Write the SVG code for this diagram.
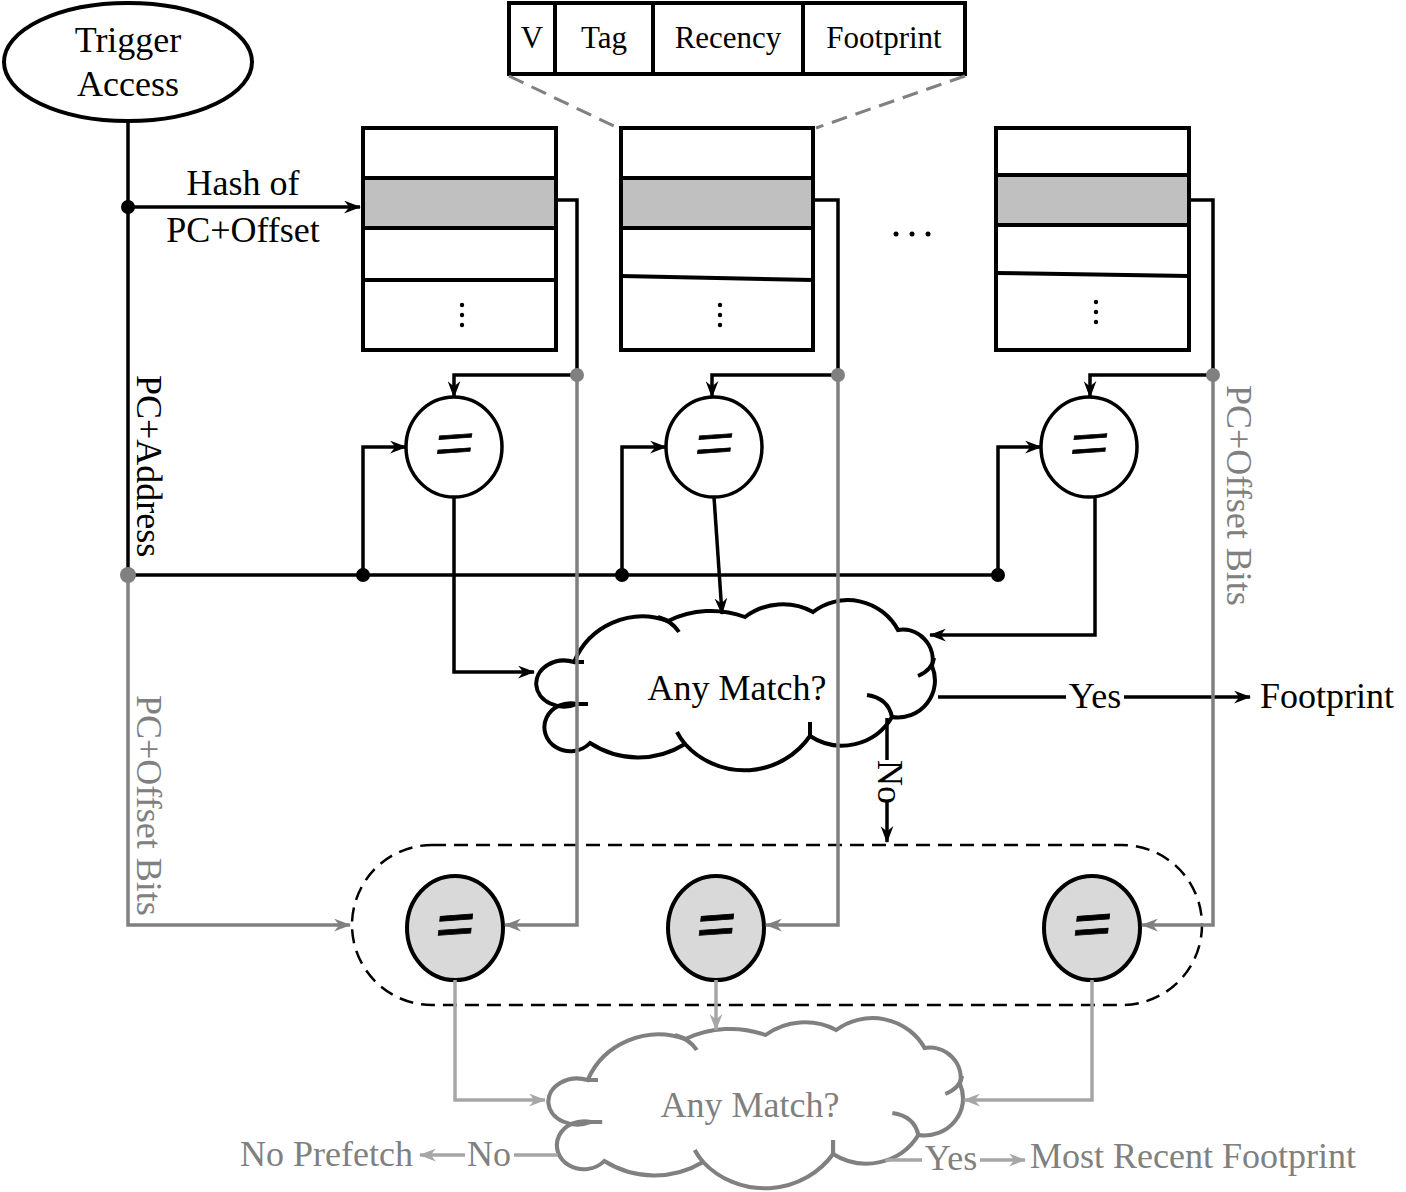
<svg xmlns="http://www.w3.org/2000/svg" width="1406" height="1192" viewBox="0 0 1406 1192">
<style>
text{font-family:"Liberation Serif","Times New Roman",serif;}
.t{font-size:36px;fill:#000;}
.tg{font-size:36px;fill:#808080;}
.tb{font-size:31px;fill:#000;}
.eq{font-family:"Liberation Serif",serif;font-size:70px;fill:#000;stroke:#000;stroke-width:0.8;}
.box{fill:#fff;stroke:#000;stroke-width:4;}
.row{fill:#c0c0c0;stroke:#000;stroke-width:4;}
.bl{fill:none;stroke:#000;stroke-width:3.5;}
.gl{fill:none;stroke:#808080;stroke-width:3.5;}
.ll{fill:none;stroke:#a6a6a6;stroke-width:3.5;}
.cmp{fill:#fff;stroke:#000;stroke-width:3.5;}
.cmpg{fill:#d9d9d9;stroke:#000;stroke-width:4;}
</style>
<defs>
<marker id="ab" viewBox="0 0 16 12" refX="15" refY="6" markerWidth="17" markerHeight="13" markerUnits="userSpaceOnUse" orient="auto"><path d="M0,0 L16,6 L0,12 L5,6 z" fill="#000"/></marker>
<marker id="ag" viewBox="0 0 16 12" refX="15" refY="6" markerWidth="17" markerHeight="13" markerUnits="userSpaceOnUse" orient="auto"><path d="M0,0 L16,6 L0,12 L5,6 z" fill="#808080"/></marker>
<marker id="al" viewBox="0 0 16 12" refX="15" refY="6" markerWidth="17" markerHeight="13" markerUnits="userSpaceOnUse" orient="auto"><path d="M0,0 L16,6 L0,12 L5,6 z" fill="#a6a6a6"/></marker>
<g id="cloudshape">
<path d="M 577 704 A 28 23 0 1 1 574 662 A 74 74 0 0 1 668 621 A 97 97 0 0 1 745 617 A 63 63 0 0 1 813 612 A 57 57 0 0 1 898 630 A 30 30 0 0 1 932 666 A 37 37 0 0 1 892 717 A 58 58 0 0 1 810 736 A 80 80 0 0 1 685 744 A 88 88 0 0 1 590 743 A 26 24 0 1 1 577 704 Z" fill="#fff"/>
<path d="M 658 617 Q 672 621 679 632 M 934 658 Q 932 670 918 676 M 867 695 Q 888 698 892 717 M 810 736 L 810 722 M 685 744 Q 680 738 677 732 M 574 662 L 584 662 M 577 704 L 588 704" fill="none"/>
</g>
</defs>

<g id="entry">
<rect class="box" x="509" y="3" width="456" height="71"/>
<line x1="555" y1="3" x2="555" y2="74" stroke="#000" stroke-width="4"/>
<line x1="653" y1="3" x2="653" y2="74" stroke="#000" stroke-width="4"/>
<line x1="803" y1="3" x2="803" y2="74" stroke="#000" stroke-width="4"/>
<text class="tb" x="532" y="48" text-anchor="middle">V</text>
<text class="tb" x="604" y="48" text-anchor="middle">Tag</text>
<text class="tb" x="728" y="48" text-anchor="middle">Recency</text>
<text class="tb" x="884" y="48" text-anchor="middle">Footprint</text>
<line x1="509" y1="76" x2="618" y2="128" stroke="#808080" stroke-width="3" stroke-dasharray="16 9"/>
<line x1="965" y1="76" x2="816" y2="128" stroke="#808080" stroke-width="3" stroke-dasharray="16 9"/>
</g>

<g id="trigger">
<ellipse cx="128" cy="62" rx="124" ry="59" fill="#fff" stroke="#000" stroke-width="4"/>
<text class="t" x="128" y="52" text-anchor="middle" font-size="38">Trigger</text>
<text class="t" x="128" y="96" text-anchor="middle" font-size="38">Access</text>
</g>

<g id="table1">
<rect class="box" x="363" y="128" width="193" height="222"/>
<rect class="row" x="363" y="178" width="193" height="50"/>
<line x1="363" y1="280" x2="556" y2="280" stroke="#000" stroke-width="4"/>
<circle cx="462" cy="305" r="2.2"/><circle cx="462" cy="315" r="2.2"/><circle cx="462" cy="325" r="2.2"/>
</g>
<g id="table2">
<rect class="box" x="621" y="128" width="192" height="222"/>
<rect class="row" x="621" y="178" width="192" height="50"/>
<line x1="621" y1="276" x2="813" y2="280" stroke="#000" stroke-width="4"/>
<circle cx="720" cy="305" r="2.2"/><circle cx="720" cy="315" r="2.2"/><circle cx="720" cy="325" r="2.2"/>
</g>
<g id="ellipsis">
<circle cx="896" cy="234" r="2.5"/><circle cx="912" cy="234" r="2.5"/><circle cx="928" cy="234" r="2.5"/>
</g>
<g id="table3">
<rect class="box" x="996" y="128" width="193" height="222"/>
<rect class="row" x="996" y="175" width="193" height="50"/>
<line x1="996" y1="273" x2="1189" y2="276" stroke="#000" stroke-width="4"/>
<circle cx="1096" cy="302" r="2.2"/><circle cx="1096" cy="312" r="2.2"/><circle cx="1096" cy="322" r="2.2"/>
</g>

<g id="cmp1"><ellipse class="cmp" cx="454" cy="447" rx="48" ry="50"/><text class="eq" text-anchor="middle" transform="translate(454 449) rotate(-4) skewX(-10)" y="18">=</text></g>
<g id="cmp2"><ellipse class="cmp" cx="714" cy="447" rx="48" ry="50"/><text class="eq" text-anchor="middle" transform="translate(714 449) rotate(-4) skewX(-10)" y="18">=</text></g>
<g id="cmp3"><ellipse class="cmp" cx="1089" cy="447" rx="48" ry="50"/><text class="eq" text-anchor="middle" transform="translate(1089 449) rotate(-4) skewX(-10)" y="18">=</text></g>

<g id="cloud1">
<use href="#cloudshape" stroke="#000" stroke-width="4"/>
<text class="t" x="737" y="700" text-anchor="middle">Any Match?</text>
</g>

<g id="group2">
<rect x="352" y="845" width="850" height="160" rx="80" ry="80" fill="none" stroke="#000" stroke-width="2.5" stroke-dasharray="14 8"/>
</g>
<g id="gcmp1"><ellipse class="cmpg" cx="455" cy="928" rx="48" ry="52"/><text class="eq" font-weight="bold" text-anchor="middle" transform="translate(455 930) rotate(-4) skewX(-10)" y="18">=</text></g>
<g id="gcmp2"><ellipse class="cmpg" cx="716" cy="928" rx="48" ry="52"/><text class="eq" font-weight="bold" text-anchor="middle" transform="translate(716 930) rotate(-4) skewX(-10)" y="18">=</text></g>
<g id="gcmp3"><ellipse class="cmpg" cx="1092" cy="928" rx="48" ry="52"/><text class="eq" font-weight="bold" text-anchor="middle" transform="translate(1092 930) rotate(-4) skewX(-10)" y="18">=</text></g>

<g id="cloud2">
<use href="#cloudshape" stroke="#808080" stroke-width="4" transform="translate(545,1100) scale(1.04,1) translate(-533,-682)"/>
<text class="tg" x="750" y="1117" text-anchor="middle">Any Match?</text>
</g>

<g id="outputs">
<text class="t" x="1260" y="708">Footprint</text>
<text class="tg" x="413" y="1166" text-anchor="end">No Prefetch</text>
<text class="tg" x="1030" y="1168">Most Recent Footprint</text>
</g>

<g id="connectors">
<path class="bl" d="M128 122 V575 H998"/>
<path class="bl" d="M128 207 H360" marker-end="url(#ab)"/>
<path class="bl" d="M556 200 H577 V375"/>
<path class="bl" d="M813 200 H838 V375"/>
<path class="bl" d="M1189 200 H1213 V375"/>
<path class="bl" d="M577 375 H454 V397" marker-end="url(#ab)"/>
<path class="bl" d="M838 375 H712 V397" marker-end="url(#ab)"/>
<path class="bl" d="M1213 375 H1090 V397" marker-end="url(#ab)"/>
<path class="bl" d="M363 575 V447 H406" marker-end="url(#ab)"/>
<path class="bl" d="M622 575 V447 H666" marker-end="url(#ab)"/>
<path class="bl" d="M998 575 V447 H1041" marker-end="url(#ab)"/>
<path class="bl" d="M454 497 V672 H534" marker-end="url(#ab)"/>
<path class="bl" d="M714 497 L722 614" marker-end="url(#ab)"/>
<path class="bl" d="M1095 497 V635 H930" marker-end="url(#ab)"/>
<path class="bl" d="M938 697 H1066"/>
<path class="bl" d="M1124 697 H1250" marker-end="url(#ab)"/>
<path class="bl" d="M887 718 V760"/>
<path class="bl" d="M887 800 V842" marker-end="url(#ab)"/>
<circle cx="128" cy="207" r="7" fill="#000"/>
<circle cx="363" cy="575" r="7" fill="#000"/>
<circle cx="622" cy="575" r="7" fill="#000"/>
<circle cx="998" cy="575" r="7" fill="#000"/>
<path class="gl" d="M128 575 V925 H350" marker-end="url(#ag)"/>
<path class="gl" d="M577 375 V925 H505" marker-end="url(#ag)"/>
<path class="gl" d="M838 375 V925 H766" marker-end="url(#ag)"/>
<path class="gl" d="M1213 375 V925 H1142" marker-end="url(#ag)"/>
<circle cx="128" cy="575" r="8" fill="#808080"/>
<circle cx="577" cy="375" r="7" fill="#808080"/>
<circle cx="838" cy="375" r="7" fill="#808080"/>
<circle cx="1213" cy="375" r="7" fill="#808080"/>
<path class="ll" d="M455 980 V1100 H545" marker-end="url(#al)"/>
<path class="ll" d="M716 980 V1030" marker-end="url(#al)"/>
<path class="ll" d="M1092 980 V1100 H964" marker-end="url(#al)"/>
<path class="ll" d="M558 1155 H514"/>
<path class="ll" d="M465 1155 H420" marker-end="url(#al)"/>
<path class="ll" d="M885 1160 H922"/>
<path class="ll" d="M980 1160 H1025" marker-end="url(#al)"/>
<text class="t" x="243" y="195" text-anchor="middle">Hash of</text>
<text class="t" x="243" y="242" text-anchor="middle">PC+Offset</text>
<text class="t" transform="translate(137,375) rotate(90)">PC+Address</text>
<text class="tg" transform="translate(137,695) rotate(90)">PC+Offset Bits</text>
<text class="tg" transform="translate(1227,385) rotate(90)">PC+Offset Bits</text>
<text class="t" x="1095" y="708" font-size="34" text-anchor="middle">Yes</text>
<text class="t" transform="translate(878,760) rotate(90)" font-size="34">No</text>
<text class="tg" x="489" y="1166" text-anchor="middle">No</text>
<text class="tg" x="951" y="1170" font-size="34" text-anchor="middle">Yes</text>
</g>
</svg>
